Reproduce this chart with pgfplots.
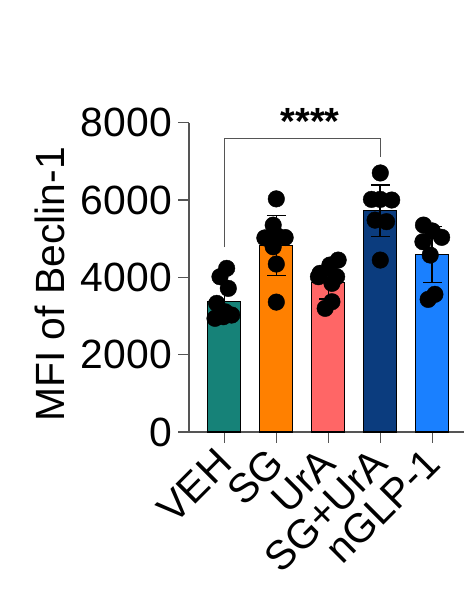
\documentclass[border=0pt]{standalone}
\usepackage{pgfplots}
\pgfplotsset{compat=1.18}
\usepackage{fontspec}
\setmainfont{Liberation Sans}
\definecolor{cVEH}{HTML}{168278}
\definecolor{cSG}{HTML}{FF8000}
\definecolor{cUrA}{HTML}{FF6666}
\definecolor{cSGU}{HTML}{0B3C7E}
\definecolor{cNG}{HTML}{1A80FF}
\definecolor{axgray}{HTML}{555555}
\begin{document}
\begin{tikzpicture}[x=1bp,y=1bp]
\useasboundingbox (0,0) rectangle (465,597);
\begin{axis}[
  at={(189bp,165bp)}, anchor=south west,
  scale only axis, width=275bp, height=309.3bp,
  xmin=-0.679, xmax=4.61, ymin=0, ymax=8000,
  axis x line*=bottom, axis y line*=left,
  axis line style={axgray, line width=1.2bp, -},
  tick style={axgray, line width=1.2bp},
  tick align=outside, major tick length=11bp,
  xtick={0,1,2,3,4},
  xticklabels={VEH,SG,UrA,SG+UrA,nGLP-1},
  ytick={0,2000,4000,6000,8000},
  scaled y ticks=false,
  /pgf/number format/assume math mode=true,
  yticklabel={\pgfmathprintnumber[fixed,1000 sep={}]{\tick}},
  ticklabel style={font=\fontsize{41}{43}\selectfont},
  yticklabel style={inner sep=0pt, xshift=-6bp},
  xticklabel style={anchor=east, inner sep=0pt, yshift=-13bp, rotate=45},
  clip=false,
]
\addplot[ybar, bar width=33bp, bar shift=0pt, fill=cVEH, draw=black, line width=1.2bp] coordinates {(0,3369)};
\addplot[ybar, bar width=33bp, bar shift=0pt, fill=cSG, draw=black, line width=1.2bp] coordinates {(1,4827)};
\addplot[ybar, bar width=33bp, bar shift=0pt, fill=cUrA, draw=black, line width=1.2bp] coordinates {(2,3861)};
\addplot[ybar, bar width=33bp, bar shift=0pt, fill=cSGU, draw=black, line width=1.2bp] coordinates {(3,5722)};
\addplot[ybar, bar width=33bp, bar shift=0pt, fill=cNG, draw=black, line width=1.2bp] coordinates {(4,4594)};
% error bars
\addplot[draw=none, mark=none,
  error bars/.cd, y dir=both, y explicit,
  error bar style={draw=black, line width=1.6bp},
  error mark options={draw=black, rotate=90, mark size=9.5bp, line width=1.6bp}]
  coordinates {
  (0,3369) +- (0,480)
  (1,4827) +- (0,776)
  (2,3861) +- (0,420)
  (3,5722) +- (0,670)
  (4,4594) +- (0,725)
};
% individual points
\addplot[only marks, mark=*, mark size=8.3bp, black, mark options={fill=black, draw=black}] coordinates {
  (0.045,4233) (-0.083,4016) (0.077,3715) (-0.146,3327) (-0.179,2940) (0.142,3025) (-0.019,2981) (0.013,3110)
  (1.00,6030) (0.94,5350) (0.78,5020) (1.17,5030) (1.00,5090) (0.94,4790) (1.00,4344) (1.00,3360)
  (2.19,4447) (2.03,4318) (1.84,4103) (2.16,4016) (1.81,4016) (2.07,3845) (2.07,3369) (1.94,3198)
  (3.00,6700) (2.83,6017) (3.00,6017) (3.22,6000) (2.90,5480) (3.12,5440) (3.00,4447)
  (3.83,5352) (4.18,5034) (3.82,4921) (3.96,4577) (4.05,3560) (3.92,3430) (4.00,5200)
};
% significance bracket
\draw[axgray, line width=1bp] (axis cs:0,4780) -- (axis cs:0,7594) -- (axis cs:3,7594) -- (axis cs:3,7100);
\node[anchor=base, font=\fontsize{38}{40}\selectfont\bfseries, inner sep=0pt] at (axis cs:1.65,7594) [yshift=4bp] {****};
\end{axis}
\node[rotate=90, font=\fontsize{41}{43}\selectfont, inner sep=0pt] at (50,312.5) {MFI of Beclin-1};
\end{tikzpicture}
\end{document}
